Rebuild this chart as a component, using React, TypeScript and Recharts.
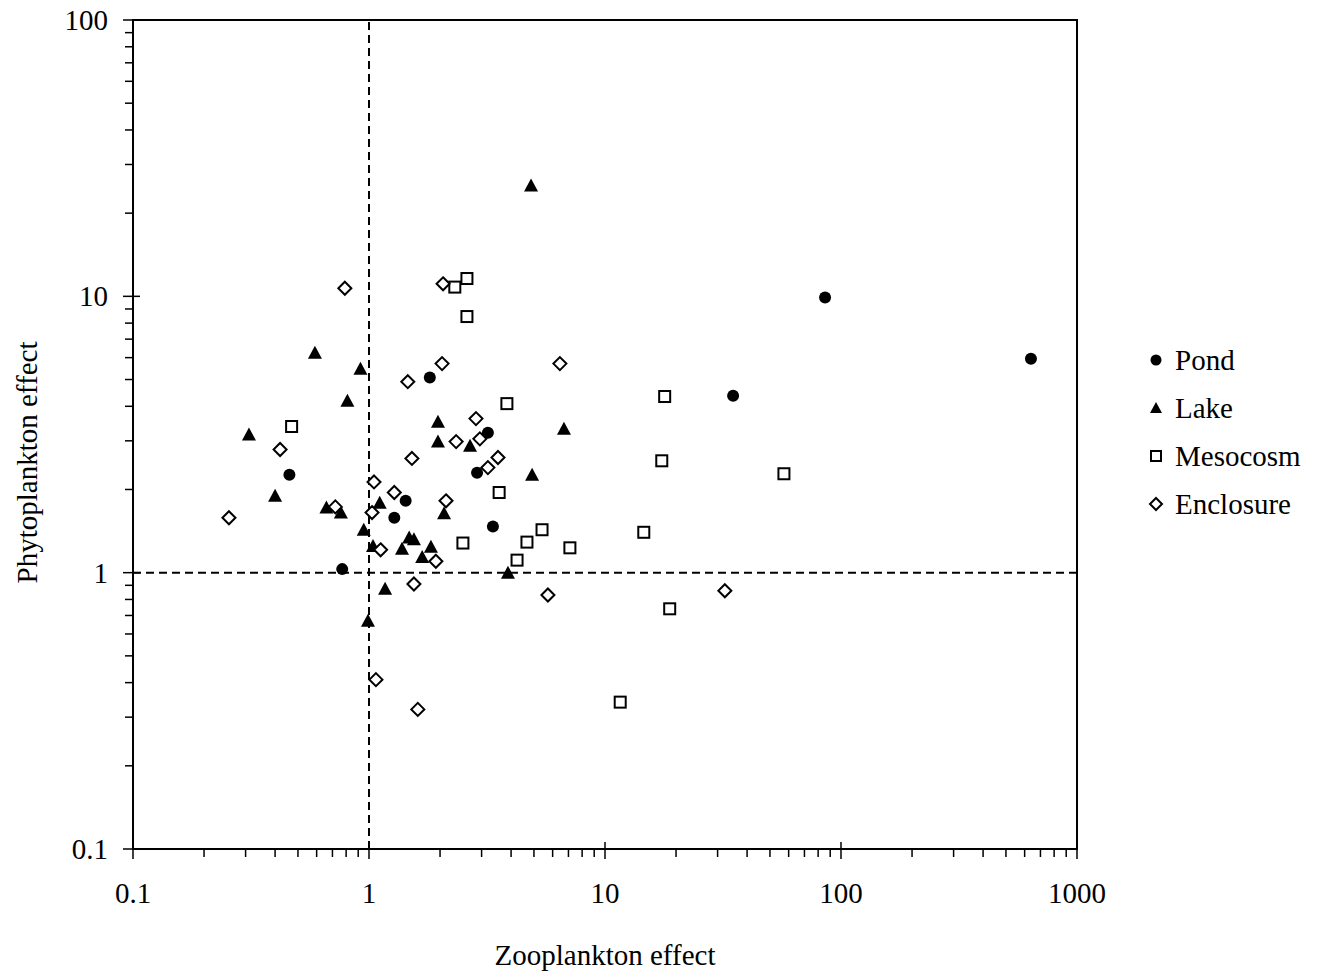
import { ReferenceArea, ReferenceLine, Scatter, ScatterChart, XAxis, YAxis } from "recharts";

// [zooplankton effect, phytoplankton effect]
const pond = [
  [0.46, 2.26], [0.77, 1.03], [1.28, 1.58], [1.43, 1.82], [1.81, 5.08],
  [2.87, 2.3], [3.19, 3.21], [3.35, 1.47], [34.9, 4.37], [85.6, 9.9], [638, 5.95],
];

const lake = [
  [0.31, 3.16], [0.4, 1.9], [0.59, 6.25], [0.66, 1.72], [0.76, 1.65],
  [0.81, 4.19], [0.92, 5.47], [0.95, 1.43], [1.04, 1.25], [1.11, 1.79],
  [1.17, 0.875], [0.99, 0.67], [1.38, 1.22], [1.48, 1.34], [1.55, 1.32],
  [1.68, 1.14], [1.83, 1.24], [1.96, 3.52], [1.96, 2.98], [2.08, 1.64],
  [2.68, 2.88], [3.88, 1.0], [4.91, 2.26], [6.7, 3.32], [4.86, 25.2],
];

const mesocosm = [
  [0.47, 3.38], [2.31, 10.8], [2.6, 11.6], [2.6, 8.45], [3.84, 4.09],
  [3.56, 1.95], [2.5, 1.28], [5.41, 1.43], [4.67, 1.29], [4.24, 1.11],
  [7.1, 1.23], [17.9, 4.34], [17.4, 2.54], [57.3, 2.28], [14.6, 1.4],
  [18.8, 0.74], [11.6, 0.34],
];

const enclosure = [
  [0.255, 1.58], [0.42, 2.79], [0.72, 1.73], [0.79, 10.7], [1.03, 1.65],
  [1.05, 2.13], [1.07, 0.41], [1.12, 1.21], [1.28, 1.95], [1.46, 4.91],
  [1.52, 2.59], [1.55, 0.91], [1.61, 0.32], [1.92, 1.1], [2.04, 5.71],
  [2.06, 11.1], [2.12, 1.82], [2.34, 2.98], [2.84, 3.61], [2.95, 3.05],
  [3.19, 2.4], [3.52, 2.61], [5.73, 0.83], [6.44, 5.71], [32.2, 0.86],
];

const xMajor = [0.1, 1, 10, 100, 1000];
const yMajor = [0.1, 1, 10, 100];

const withMinors = (major: number[]) => {
  const out: number[] = [];
  major.slice(0, -1).forEach((d) => {
    for (let k = 1; k < 10; k++) out.push(d * k);
  });
  out.push(major[major.length - 1]);
  return out;
};

const xTicks = withMinors(xMajor);
const yTicks = withMinors(yMajor);

const toPoints = (arr: number[][]) => arr.map(([x, y]) => ({ x, y }));

const FONT = '"Liberation Serif", "Times New Roman", serif';

const isMajor = (v: number) => {
  const l = Math.log10(v);
  return Math.abs(l - Math.round(l)) < 1e-6;
};

const fmt = (v: number) => (v < 1 ? "0.1" : String(Math.round(v)));

const XTick = ({ x, y, payload }: any) => {
  const major = isMajor(payload.value);
  return (
    <g>
      <line x1={x} x2={x} y1={major ? y - 7 : y} y2={y + (major ? 10 : 8)} stroke="#000" strokeWidth={1.5} />
      {major && (
        <text x={x} y={y + 54} textAnchor="middle" fontSize={29} fontFamily={FONT} fill="#000">
          {fmt(payload.value)}
        </text>
      )}
    </g>
  );
};

const YTick = ({ x, y, payload }: any) => {
  const major = isMajor(payload.value);
  return (
    <g>
      <line x1={major ? x + 7 : x} x2={x - (major ? 10 : 8)} y1={y} y2={y} stroke="#000" strokeWidth={1.5} />
      {major && (
        <text x={x - 25} y={y} textAnchor="end" dominantBaseline="central" fontSize={29} fontFamily={FONT} fill="#000">
          {fmt(payload.value)}
        </text>
      )}
    </g>
  );
};

const Dot = ({ cx, cy, r = 6 }: any) => <circle cx={cx} cy={cy} r={r} fill="#000" />;
const Tri = ({ cx, cy, s = 7 }: any) => (
  <polygon points={`${cx},${cy - s} ${cx + s},${cy + s - 1} ${cx - s},${cy + s - 1}`} fill="#000" />
);
const Sq = ({ cx, cy, s = 5.5 }: any) => (
  <rect x={cx - s} y={cy - s} width={s * 2} height={s * 2} fill="#fff" stroke="#000" strokeWidth={2} />
);
const Dia = ({ cx, cy, s = 6.5 }: any) => (
  <polygon
    points={`${cx},${cy - s} ${cx + s},${cy} ${cx},${cy + s} ${cx - s},${cy}`}
    fill="#fff"
    stroke="#000"
    strokeWidth={2}
  />
);

const series = [
  { name: "Pond", data: pond, Shape: Dot },
  { name: "Lake", data: lake, Shape: Tri },
  { name: "Mesocosm", data: mesocosm, Shape: Sq },
  { name: "Enclosure", data: enclosure, Shape: Dia },
];

const LegendBox = () => (
  <div style={{ position: "absolute", left: 1145, top: 336, fontFamily: FONT, fontSize: 29, color: "#000" }}>
    {series.map(({ name, Shape }) => (
      <div key={name} style={{ display: "flex", alignItems: "center", height: 48 }}>
        <svg width={22} height={20} style={{ marginRight: 8 }}>
          <Shape cx={11} cy={10} r={5.5} s={name === "Mesocosm" ? 5 : 6} />
        </svg>
        <span>{name}</span>
      </div>
    ))}
  </div>
);

const App = () => {
  return (
    <div style={{ position: "relative", margin: -8, width: 1329, height: 979, background: "#fff" }}>
      <ScatterChart width={1329} height={979} margin={{ top: 20, right: 252, bottom: 0, left: 0 }}>
        <XAxis
          dataKey="x"
          type="number"
          scale="log"
          domain={[0.1, 1000]}
          ticks={xTicks}
          interval={0}
          allowDataOverflow
          tickSize={0}
          tickMargin={0}
          tickLine={false}
          tick={<XTick />}
          height={130}
          axisLine={{ stroke: "#000", strokeWidth: 2 }}
          label={{
            content: ({ viewBox }: any) => (
              <text
                x={viewBox.x + viewBox.width / 2}
                y={viewBox.y + 116}
                textAnchor="middle"
                fontSize={29}
                fontFamily={FONT}
                fill="#000"
              >
                Zooplankton effect
              </text>
            ),
          }}
        />
        <YAxis
          dataKey="y"
          type="number"
          scale="log"
          domain={[0.1, 100]}
          ticks={yTicks}
          interval={0}
          allowDataOverflow
          tickSize={0}
          tickMargin={0}
          tickLine={false}
          tick={<YTick />}
          width={133}
          axisLine={{ stroke: "#000", strokeWidth: 2 }}
          label={{
            content: ({ viewBox }: any) => (
              <text
                transform={`translate(27, ${viewBox.y + viewBox.height / 2 + 28}) rotate(-90)`}
                textAnchor="middle"
                dominantBaseline="central"
                fontSize={29}
                fontFamily={FONT}
                fill="#000"
              >
                Phytoplankton effect
              </text>
            ),
          }}
        />
        <ReferenceArea x1={0.1} x2={1000} y1={0.1} y2={100} fill="none" stroke="#000" strokeWidth={2} />
        <ReferenceLine x={1} stroke="#000" strokeWidth={2} strokeDasharray="8 5" />
        <ReferenceLine y={1} stroke="#000" strokeWidth={2} strokeDasharray="8 5" />
        {series.map(({ name, data, Shape }) => (
          <Scatter key={name} name={name} data={toPoints(data)} shape={<Shape />} isAnimationActive={false} />
        ))}
      </ScatterChart>
      <LegendBox />
    </div>
  );
};

export default App;
